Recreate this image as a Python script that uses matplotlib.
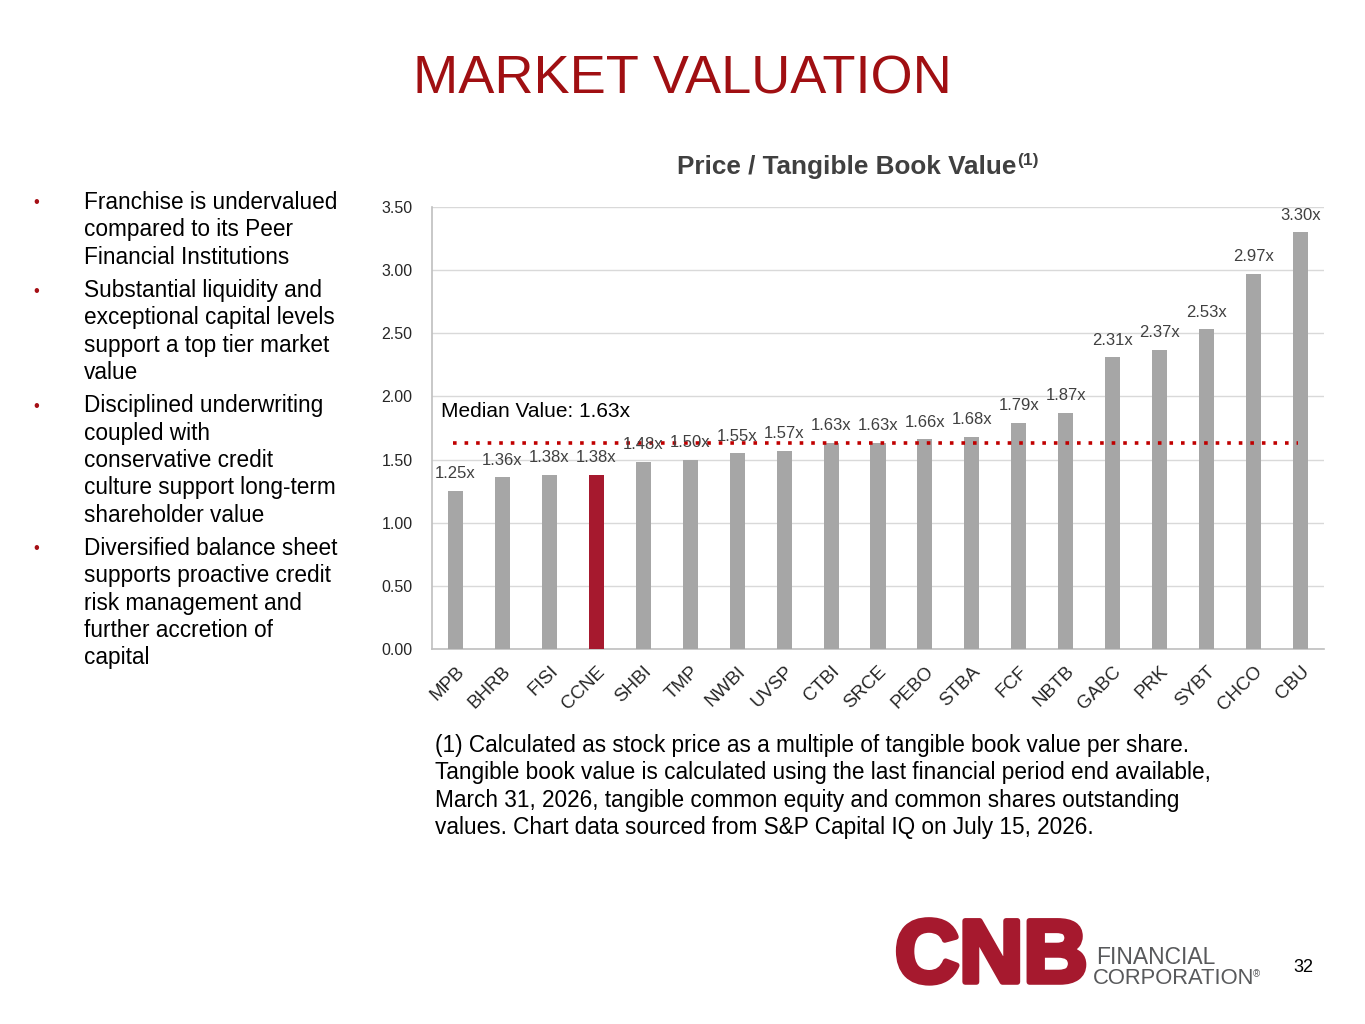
import matplotlib
matplotlib.use("Agg")
import matplotlib.pyplot as plt
import matplotlib.patheffects as pe
import numpy as np

plt.rcParams['font.family'] = ['Liberation Sans', 'DejaVu Sans']

tickers = ["MPB", "BHRB", "FISI", "CCNE", "SHBI", "TMP", "NWBI", "UVSP", "CTBI", "SRCE",
           "PEBO", "STBA", "FCF", "NBTB", "GABC", "PRK", "SYBT", "CHCO", "CBU"]
values = [1.25, 1.36, 1.38, 1.38, 1.48, 1.50, 1.55, 1.57, 1.63, 1.63,
          1.66, 1.68, 1.79, 1.87, 2.31, 2.37, 2.53, 2.97, 3.30]
highlight = "CCNE"
median_value = 1.63
yticks = [0.0, 0.5, 1.0, 1.5, 2.0, 2.5, 3.0, 3.5]

bullets = [
    "Franchise is undervalued\ncompared to its Peer\nFinancial Institutions",
    "Substantial liquidity and\nexceptional capital levels\nsupport a top tier market\nvalue",
    "Disciplined underwriting\ncoupled with\nconservative credit\nculture support long-term\nshareholder value",
    "Diversified balance sheet\nsupports proactive credit\nrisk management and\nfurther accretion of\ncapital",
]
footnote = ("(1) Calculated as stock price as a multiple of tangible book value per share.\n"
            "Tangible book value is calculated using the last financial period end available,\n"
            "March 31, 2026, tangible common equity and common shares outstanding\n"
            "values. Chart data sourced from S&P Capital IQ on July 15, 2026.")

RED = "#A6192E"
GRAY = "#A6A6A6"
TXT = "#404040"

fig = plt.figure(figsize=(13.65, 10.24), dpi=100)
W, H = 1365, 1024

def fx(px):
    return px / W

def fy(py):
    return 1 - py / H

# Title
fig.text(0.5, fy(80), "MARKET VALUATION", ha="center", va="center",
         fontsize=39, color="#A00F12")

# Chart
ax = fig.add_axes([fx(432), fy(649), fx(1324) - fx(432), fy(207) - fy(649)])
x = np.arange(len(tickers))
colors = [RED if t == highlight else GRAY for t in tickers]
ax.bar(x, values, width=0.32, color=colors, zorder=3)
ax.set_xlim(-0.5, len(tickers) - 0.5)
ax.set_ylim(0, 3.5)
ax.set_yticks(yticks)
ax.set_yticklabels([f"{v:.2f}" for v in yticks], fontsize=11.5, color="#262626")
ax.yaxis.grid(True, color="#D9D9D9", linewidth=1, zorder=0)
ax.tick_params(axis="y", length=0, pad=14)
ax.tick_params(axis="x", length=0, pad=10)
ax.set_xticks(x)
ax.set_xticklabels(tickers, rotation=45, ha="right", rotation_mode="anchor",
                   fontsize=13.5, color="#262626")
for s in ["top", "right"]:
    ax.spines[s].set_visible(False)
ax.spines["left"].set_color("#BFBFBF")
ax.spines["bottom"].set_color("#BFBFBF")
ax.spines["left"].set_linewidth(1.2)
ax.spines["bottom"].set_linewidth(1.2)

for xi, v in zip(x, values):
    ax.annotate(f"{v:.2f}x", (xi, v), xytext=(0, 7), textcoords="offset points",
                ha="center", va="bottom", fontsize=12, color=TXT, zorder=5)

ax.plot([-0.05, len(tickers) - 1.05], [median_value, median_value], color="#C00000",
        linestyle=(0, (1, 2.2)), linewidth=2.6, zorder=4)
ax.text(-0.3, 1.88, f"Median Value: {median_value:.2f}x", fontsize=15, color="black",
        ha="left", va="center", zorder=5)

fig.text(fx(1016), fy(167), "Price / Tangible Book Value", ha="right",
         va="center", fontsize=18.8, fontweight="bold", color=TXT)
fig.text(fx(1017), fy(161), "(1)", ha="left", va="center", fontsize=12.5,
         fontweight="bold", color=TXT)

# Bullets
ytop = 203
lh = 27.2
for b in bullets:
    n = b.count("\n") + 1
    fig.text(fx(33), fy(ytop), "\u2022", color="#A50F15", fontsize=12, ha="left", va="center")
    fig.text(fx(84), fy(ytop - 12), b, fontsize=16.3, color="black", ha="left", va="top",
             linespacing=1.24)
    ytop += n * lh + 6.5

# Footnote
fig.text(fx(435), fy(734), footnote, fontsize=16.3, color="black", ha="left", va="top",
         linespacing=1.24)

# Logo
fig.text(fx(895), fy(959), "CNB", fontsize=64, fontweight="bold", color=RED,
         ha="left", va="center",
         path_effects=[pe.withStroke(linewidth=4, foreground=RED)])
fig.text(fx(1096), fy(957), "FINANCIAL", fontsize=16.5, color="#58595B", ha="left", va="center")
fig.text(fx(1093), fy(979), "CORPORATION", fontsize=15.8, color="#58595B", ha="left", va="center")
fig.text(fx(1253), fy(974), "\u00ae", fontsize=7, color="#58595B", ha="left", va="center")
fig.text(fx(1303), fy(968), "32", fontsize=13, color="black", ha="center", va="center")

fig.savefig("out.png", dpi=100, facecolor="white")
